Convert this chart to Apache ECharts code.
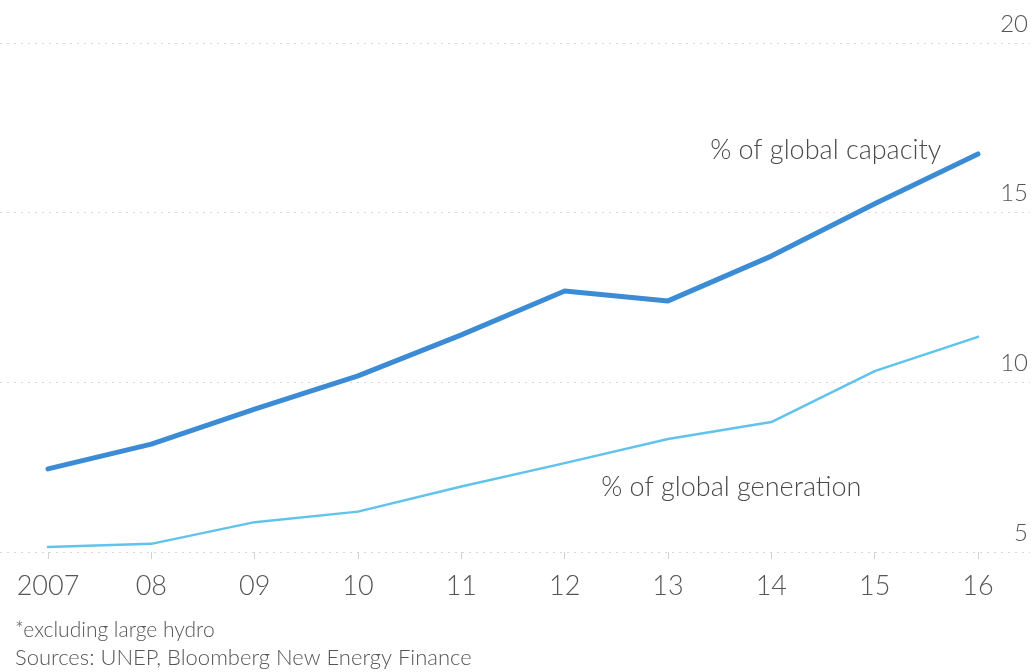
<!DOCTYPE html>
<html>
<head>
<meta charset="utf-8">
<script src="https://cdn.jsdelivr.net/npm/echarts@6/dist/echarts.min.js"></script>
<style>
  html, body { margin: 0; padding: 0; background: #ffffff; }
  #chart { width: 1036px; height: 672px; }
</style>
</head>
<body>
<div id="chart"></div>
<script>
// Renewable power (excluding large hydro), share of global total, %
const years = ['2007', '08', '09', '10', '11', '12', '13', '14', '15', '16'];
const capacityShare = [7.45, 8.18, 9.21, 10.19, 11.40, 12.69, 12.40, 13.72, 15.26, 16.73];
const generationShare = [5.15, 5.24, 5.88, 6.19, 6.93, 7.62, 8.33, 8.83, 10.33, 11.34];
const yTicks = [5, 10, 15, 20];

const capacityName = '% of global capacity';
const generationName = '% of global generation';

const FONT = 'Lato, "Open Sans", sans-serif';
const CAPACITY_COLOR = '#3b8cd5';
const GENERATION_COLOR = '#60c3ec';

// attach the series caption to one point of the line
function withCaption(values, index, label) {
  return values.map((v, i) => i === index ? { value: v, label: label } : v);
}

const chart = echarts.init(document.getElementById('chart'), null, { renderer: 'canvas' });

chart.setOption({
  backgroundColor: '#ffffff',
  animation: false,
  textStyle: { fontFamily: FONT },
  grid: [
    // full-width grid carrying the dotted rules and the right-hand scale
    { left: 0, right: 6, top: 43, bottom: 120 },
    // plotting grid for the two lines
    { left: 48, right: 58, top: 43, bottom: 120 }
  ],
  xAxis: [
    { gridIndex: 0, type: 'value', min: 0, max: 1, show: false },
    {
      gridIndex: 1,
      type: 'category',
      data: years,
      boundaryGap: false,
      axisLine: { show: false },
      axisTick: { show: true, length: 7, lineStyle: { color: '#d2d2d2', width: 1 } },
      axisLabel: {
        margin: 21,
        fontSize: 27,
        fontWeight: 300,
        color: '#555555',
        fontFamily: FONT
      },
      splitLine: { show: false }
    }
  ],
  yAxis: [
    {
      gridIndex: 0,
      type: 'value',
      position: 'right',
      min: yTicks[0],
      max: yTicks[yTicks.length - 1],
      interval: 5,
      axisLine: { show: false },
      axisTick: { show: false },
      axisLabel: {
        inside: true,
        margin: 2,
        align: 'right',
        verticalAlign: 'bottom',
        padding: [0, 0, 7, 0],
        fontSize: 24,
        fontWeight: 300,
        color: '#555555',
        fontFamily: FONT,
        formatter: v => yTicks.includes(v) ? String(v) : ''
      },
      splitLine: { show: true, lineStyle: { color: '#d6d6d6', width: 1, type: [2, 5] } }
    },
    {
      gridIndex: 1,
      type: 'value',
      min: yTicks[0],
      max: yTicks[yTicks.length - 1],
      interval: 5,
      show: false,
      splitLine: { show: false }
    }
  ],
  series: [
    {
      name: capacityName,
      type: 'line',
      xAxisIndex: 1,
      yAxisIndex: 1,
      data: withCaption(capacityShare, 8, {
        show: true,
        position: 'top',
        distance: 5,
        offset: [-49, -34],
        formatter: capacityName,
        fontSize: 27,
        fontWeight: 300,
        color: '#4a4a4a',
        fontFamily: FONT
      }),
      showSymbol: true,
      symbol: 'circle',
      symbolSize: 2,
      itemStyle: { color: CAPACITY_COLOR },
      lineStyle: { color: CAPACITY_COLOR, width: 5, cap: 'round', join: 'round' },
      emphasis: { disabled: true },
      z: 3
    },
    {
      name: generationName,
      type: 'line',
      xAxisIndex: 1,
      yAxisIndex: 1,
      data: withCaption(generationShare, 7, {
        show: true,
        position: 'bottom',
        distance: 5,
        offset: [-40, 46],
        formatter: generationName,
        fontSize: 27,
        fontWeight: 300,
        color: '#4a4a4a',
        fontFamily: FONT
      }),
      showSymbol: true,
      symbol: 'circle',
      symbolSize: 2,
      itemStyle: { color: GENERATION_COLOR },
      lineStyle: { color: GENERATION_COLOR, width: 2.5, cap: 'round', join: 'round' },
      emphasis: { disabled: true },
      z: 2
    }
  ],
  graphic: [
    {
      type: 'text',
      left: 15,
      top: 620,
      style: { text: '*excluding large hydro', fontSize: 21, fontWeight: 300, fill: '#555555', fontFamily: FONT }
    },
    {
      type: 'text',
      left: 15,
      top: 647,
      style: { text: 'Sources: UNEP, Bloomberg New Energy Finance', fontSize: 22, fontWeight: 300, fill: '#555555', fontFamily: FONT }
    }
  ]
});
</script>
</body>
</html>
